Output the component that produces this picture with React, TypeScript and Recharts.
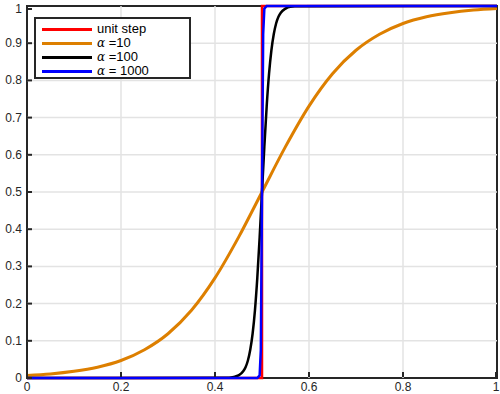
import { LineChart, Line, XAxis, YAxis, CartesianGrid } from "recharts"

// values
const stepX = [0, 0.5, 0.5, 1]
const stepY = [0, 0, 1, 1]

const a10X = [0, 0.05, 0.1, 0.15, 0.2, 0.25, 0.3, 0.35, 0.4, 0.45, 0.5, 0.55, 0.6, 0.65, 0.7, 0.75, 0.8, 0.85, 0.9, 0.95, 1]
const a10Y = [0.007, 0.011, 0.018, 0.029, 0.047, 0.076, 0.119, 0.182, 0.269, 0.378, 0.5, 0.622, 0.731, 0.818, 0.881, 0.924, 0.953, 0.971, 0.982, 0.989, 0.993]

const a100X = [0, 0.43, 0.44, 0.45, 0.46, 0.465, 0.47, 0.475, 0.48, 0.485, 0.49, 0.495, 0.5, 0.505, 0.51, 0.515, 0.52, 0.525, 0.53, 0.535, 0.54, 0.55, 0.56, 0.57, 1]
const a100Y = [0, 0.001, 0.003, 0.007, 0.018, 0.029, 0.047, 0.076, 0.119, 0.182, 0.269, 0.378, 0.5, 0.622, 0.731, 0.818, 0.881, 0.924, 0.953, 0.971, 0.982, 0.993, 0.998, 0.999, 1]

const a1000X = [0, 0.49, 0.495, 0.4975, 0.5, 0.5025, 0.505, 0.51, 1]
const a1000Y = [0, 0, 0.007, 0.076, 0.5, 0.924, 0.993, 1, 1]

const ticks = [0, 0.1, 0.2, 0.3, 0.4, 0.5, 0.6, 0.7, 0.8, 0.9, 1]
const xTicks = [0, 0.2, 0.4, 0.6, 0.8, 1]
const tickLabel = (v: number) => (v === 0 || v === 1 ? String(v) : v.toFixed(1))

const zip = (xs: number[], ys: number[]) => xs.map((x, i) => ({ x, y: ys[i] }))

const series = [
  { name: "unit step", data: zip(stepX, stepY), color: "#ff0000", width: 2.5, curve: "linear" },
  { name: "α =10", data: zip(a10X, a10Y), color: "#dd7f00", width: 3, curve: "monotone" },
  { name: "α =100", data: zip(a100X, a100Y), color: "#000000", width: 2.5, curve: "monotone" },
  { name: "α = 1000", data: zip(a1000X, a1000Y), color: "#0000ff", width: 2.5, curve: "linear" },
]

const AXIS = "#262626"
const font = "'Liberation Sans', Arial, sans-serif"

function LeftTick({ x, y, payload }: any) {
  return (
    <g>
      <line x1={x + 5} x2={x + 10} y1={y} y2={y} stroke={AXIS} strokeWidth={2} />
      <text x={x} y={y} dy={4} textAnchor="end" fontSize={12} fill={AXIS} fontFamily={font}>
        {tickLabel(payload.value)}
      </text>
    </g>
  )
}

function RightTick({ x, y }: any) {
  return <line x1={x - 5} x2={x - 10} y1={y} y2={y} stroke={AXIS} strokeWidth={2} />
}

function BottomTick({ x, y, payload }: any) {
  return (
    <g>
      <line x1={x} x2={x} y1={y - 6} y2={y - 1} stroke={AXIS} strokeWidth={2} />
      <text x={x} y={y + 13} textAnchor="middle" fontSize={12} fill={AXIS} fontFamily={font}>
        {tickLabel(payload.value)}
      </text>
    </g>
  )
}

function TopTick({ x, y }: any) {
  return <line x1={x} x2={x} y1={y} y2={y + 5} stroke={AXIS} strokeWidth={2} />
}

function LegendBox() {
  return (
    <div
      style={{
        position: "absolute",
        left: 34,
        top: 17,
        border: `2px solid ${AXIS}`,
        background: "#fff",
        width: 157,
        height: 62,
        padding: "3px 0 0 0",
        fontFamily: font,
        fontSize: 13,
        color: "#000",
        boxSizing: "border-box",
      }}
    >
      {series.map((s) => (
        <div key={s.name} style={{ display: "flex", alignItems: "center", height: 14 }}>
          <span style={{ display: "inline-block", width: 50, height: 3, background: s.color, margin: "0 5px 0 6px" }} />
          <span style={{ lineHeight: "14px", whiteSpace: "nowrap" }}>
            {s.name.startsWith("α") ? (
              <>
                <i style={{ fontFamily: "'DejaVu Serif', serif", fontSize: 12 }}>α</i>
                {s.name.slice(1)}
              </>
            ) : (
              s.name
            )}
          </span>
        </div>
      ))}
    </div>
  )
}

export default function App() {
  return (
    <div style={{ position: "fixed", left: 0, top: 0, width: 500, height: 394, background: "#fff" }}>
      {/* axes box sits behind the svg so the curves are drawn over it */}
      <div
        style={{
          position: "absolute",
          left: 26,
          top: 5,
          width: 472,
          height: 374,
          border: `2px solid ${AXIS}`,
          boxSizing: "border-box",
        }}
      />
      <LineChart width={500} height={394} margin={{ top: 0, right: 0, bottom: 0, left: 0 }}>
        <CartesianGrid
          stroke="#e3e3e3"
          strokeWidth={1.5}
          horizontalValues={ticks.slice(1, -1)}
          verticalValues={xTicks.slice(1, -1)}
        />
        <XAxis
          xAxisId={0}
          dataKey="x"
          type="number"
          domain={[0, 1]}
          ticks={xTicks}
          height={16}
          tickSize={0}
          tickMargin={0}
          tickLine={false}
          axisLine={false}
          tick={<BottomTick />}
          allowDuplicatedCategory={false}
        />
        <XAxis
          xAxisId="t"
          orientation="top"
          type="number"
          domain={[0, 1]}
          ticks={xTicks}
          height={6}
          tickSize={0}
          tickLine={false}
          axisLine={false}
          tick={<TopTick />}
        />
        <YAxis
          yAxisId={0}
          type="number"
          domain={[0, 1]}
          ticks={ticks}
          width={27}
          tickSize={0}
          tickMargin={5}
          tickLine={false}
          axisLine={false}
          tick={<LeftTick />}
        />
        <YAxis
          yAxisId="r"
          orientation="right"
          type="number"
          domain={[0, 1]}
          ticks={ticks}
          width={3}
          tickSize={0}
          tickMargin={0}
          tickLine={false}
          axisLine={false}
          tick={<RightTick />}
        />
        {series.map((s) => (
          <Line
            key={s.name}
            xAxisId={0}
            yAxisId={0}
            data={s.data}
            dataKey="y"
            name={s.name}
            type={s.curve as any}
            stroke={s.color}
            strokeWidth={s.width}
            dot={false}
            isAnimationActive={false}
          />
        ))}
      </LineChart>
      <LegendBox />
    </div>
  )
}
